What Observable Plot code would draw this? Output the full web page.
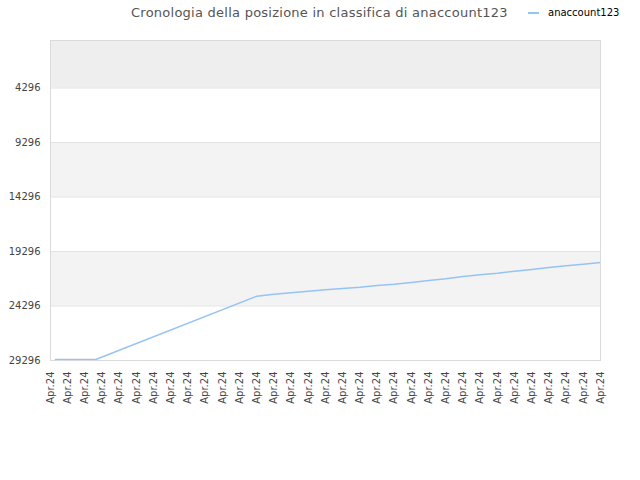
<!DOCTYPE html>
<html>
<head>
<meta charset="utf-8">
<script src="https://cdn.jsdelivr.net/npm/d3@7"></script>
<script src="https://cdn.jsdelivr.net/npm/@observablehq/plot@0.6"></script>
<style>
  html, body { margin: 0; padding: 0; background: #fff; }
  #wrap { position: relative; width: 640px; height: 480px; font-family: "DejaVu Sans", sans-serif; }
  #title { position: absolute; left: 131px; top: 5px; line-height: 16px; font-size: 13px; letter-spacing: 0.25px; color: #555; white-space: nowrap; }
  #swatch { position: absolute; left: 528px; top: 12px; width: 11px; height: 2px; background: #96c3f5; }
  #legtext { position: absolute; left: 548px; top: 5px; line-height: 16px; font-size: 10px; color: #000; white-space: nowrap; }
  #chart { position: absolute; left: 0; top: 0; }
</style>
</head>
<body>
<div id="wrap">
  <div id="chart"></div>
  <div id="title">Cronologia della posizione in classifica di anaccount123</div>
  <div id="swatch"></div>
  <div id="legtext">anaccount123</div>
</div>
<script>
// Data
const seriesName = "anaccount123";
const xLabels = Array.from({length: 33}, () => "Apr.24");
const yTicks = [4296, 9296, 14296, 19296, 24296, 29296];
const positions = [0.29, 2.63, 12, 13, 14, 15, 16, 17, 18, 19, 20, 21, 22, 23, 24, 25, 26, 27, 28, 29, 30, 31, 32];
const ranks = [29210, 29210, 23397, 23214, 23085, 22938, 22810, 22691, 22571, 22415, 22296, 22140, 21957, 21801, 21590, 21434, 21287, 21104, 20948, 20764, 20608, 20461, 20305];

const points = positions.map((p, i) => ({pos: p, rank: ranks[i]}));
const yTop = -60;
const bands = [
  {y1: yTop, y2: yTicks[0], fill: "#eeeeee"},
  {y1: yTicks[1], y2: yTicks[2], fill: "#f3f3f3"},
  {y1: yTicks[3], y2: yTicks[4], fill: "#f3f3f3"}
];

const chart = Plot.plot({
  width: 640,
  height: 480,
  marginTop: 40,
  marginBottom: 120,
  marginLeft: 50,
  marginRight: 40,
  style: {fontFamily: "DejaVu Sans", fontSize: "10px", background: "transparent"},
  x: {domain: [0, xLabels.length - 1]},
  y: {domain: [yTop, yTicks[yTicks.length - 1]], reverse: true},
  marks: [
    Plot.rect(bands, {y1: "y1", y2: "y2", fill: "fill"}),
    Plot.ruleY(yTicks, {stroke: "#e2e2e2"}),
    Plot.line(points, {x: "pos", y: "rank", stroke: "#96c3f5", strokeWidth: 1.5}),
    Plot.frame({stroke: "#dadada"}),
    Plot.axisY(yTicks, {tickSize: 0, tickPadding: 10, tickFormat: d => String(d), fill: "#444", fontSize: 10, label: null}),
    Plot.axisX(d3.range(xLabels.length), {tickSize: 0, tickPadding: 11, tickRotate: -90, tickFormat: (d, i) => xLabels[d], fill: "#444", fontSize: 10, label: null})
  ]
});
document.getElementById("chart").appendChild(chart);
</script>
</body>
</html>
